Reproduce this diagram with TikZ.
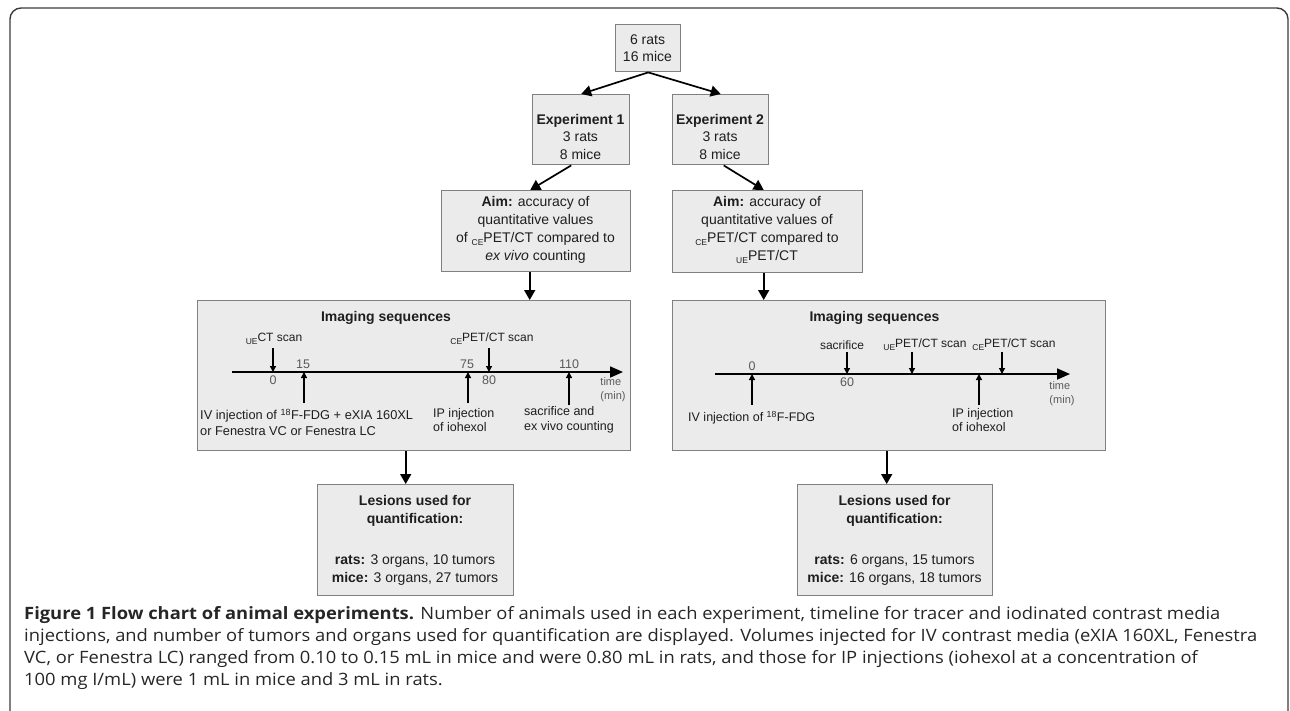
\documentclass[tikz,border=0pt]{standalone}
\usepackage{fontspec}
\setmainfont{Liberation Sans}
\newfontfamily\capfont{Open Sans}
\usetikzlibrary{arrows.meta}
\definecolor{boxfill}{HTML}{EBEBEB}
\definecolor{boxline}{HTML}{808080}
\definecolor{textc}{HTML}{1E1E1E}
\definecolor{numc}{HTML}{5A5A5A}
\definecolor{framec}{HTML}{3A3A3A}
\definecolor{capc}{HTML}{262626}
\newcommand\lowpre[1]{\raisebox{-0.45ex}{\fontsize{8.5}{9}\selectfont #1}}
\newlength\caplen
\newcommand\refline{injections, and number of tumors and organs used for quantification are displayed. Volumes injected for IV contrast media (eXIA 160XL, Fenestra}
\newcommand\capfit[1]{\settowidth{\caplen}{\refline}\pgfmathsetmacro\capsx{1233/\caplen}\scalebox{\capsx}[1]{#1}}
\tikzset{
  box/.style={draw=boxline, fill=boxfill, line width=1.4pt, inner sep=0pt, anchor=north west},
  txt/.style={font=\fontsize{14}{17.5}\selectfont, align=center, text=textc, inner sep=0pt},
  aimtxt/.style={font=\fontsize{14}{18}\selectfont, align=center, text=textc, inner sep=0pt},
  lab/.style={font=\fontsize{12.5}{14.5}\selectfont, align=left, text=textc, inner sep=0pt},
  biglab/.style={font=\fontsize{12.8}{15.5}\selectfont, align=left, text=textc, inner sep=0pt},
  scan/.style={font=\fontsize{12}{14}\selectfont, text=textc, inner sep=0pt},
  num/.style={font=\fontsize{12.5}{15}\selectfont, text=numc, inner sep=0pt},
  tlab/.style={font=\fontsize{11}{14}\selectfont, align=left, text=numc, inner sep=0pt},
  flow/.style={-{Triangle[length=10pt,width=11pt]}, line width=1.7pt, black},
  tick/.style={-{Triangle[length=6pt,width=6pt]}, line width=1.3pt, black},
  axis/.style={-{Triangle[length=13pt,width=11pt]}, line width=1.8pt, black},
  capline/.style={font=\capfont\fontsize{17}{20}\selectfont, text=capc, inner sep=0pt, anchor=base west},
}
\begin{document}
\begin{tikzpicture}[x=1pt,y=-1pt]
\useasboundingbox (0,0) rectangle (1290,710);
% outer frame
\draw[framec, line width=1.4pt, rounded corners=11pt] (10,730) -- (10,8) -- (1288,8) -- (1288,730);

% ---------- boxes ----------
\node[box, minimum width=65pt, minimum height=47pt] (top) at (615,24) {};
\node[txt] (toptx) at (647.5,48) {6 rats\\16 mice};

\node[box, minimum width=97pt, minimum height=70pt] (exp1) at (532,94) {};
\node[txt] (exp1tx) at (580.5,136.5) {\textbf{Experiment 1}\\3 rats\\8 mice};
\node[box, minimum width=96pt, minimum height=70pt] (exp2) at (672,94) {};
\node[txt] (exp2tx) at (720,136.5) {\textbf{Experiment 2}\\3 rats\\8 mice};

\node[box, minimum width=189pt, minimum height=81pt] (aim1) at (441,190) {};
\node[aimtxt] (aim1tx) at (535.5,230) {\textbf{Aim:} accuracy of\\quantitative values\\of \lowpre{CE}PET/CT compared to\\\textit{ex vivo} counting};
\node[box, minimum width=190pt, minimum height=82pt] (aim2) at (672,190) {};
\node[aimtxt] (aim2tx) at (767,230) {\textbf{Aim:} accuracy of\\quantitative values of\\\lowpre{CE}PET/CT compared to\\\lowpre{UE}PET/CT};

\node[box, minimum width=433pt, minimum height=150pt] (img1) at (197,300) {};
\node[box, minimum width=433pt, minimum height=150pt] (img2) at (672,300) {};

\node[box, minimum width=196pt, minimum height=111pt] (les1) at (317,484) {};
\node[txt] (les1h) at (415,511) {\textbf{Lesions used for}\\\textbf{quantification:}};
\node[txt] (les1tx) at (415,570) {\textbf{rats:} 3 organs, 10 tumors\\\textbf{mice:} 3 organs, 27 tumors};
\node[box, minimum width=195pt, minimum height=111pt] (les2) at (797,484) {};
\node[txt] (les2h) at (894.5,511) {\textbf{Lesions used for}\\\textbf{quantification:}};
\node[txt] (les2tx) at (894.5,570) {\textbf{rats:} 6 organs, 15 tumors\\\textbf{mice:} 16 organs, 18 tumors};

% ---------- flow arrows ----------
\draw[flow] (top.south) -- (exp1.north);
\draw[flow] (top.south) -- (exp2.north);
\draw[flow] ([xshift=-10pt]exp1.south) -- ([xshift=-6pt]aim1.north);
\draw[flow] ([xshift=3pt]exp2.south) -- ([xshift=-4pt]aim2.north);
\draw[flow] ([xshift=-6.5pt]aim1.south) -- ([xshift=-6.5pt]aim1.south |- img1.north);
\draw[flow] ([xshift=-4pt]aim2.south) -- ([xshift=-4pt]aim2.south |- img2.north);
\draw[flow] ([xshift=-8.5pt]img1.south) -- ([xshift=-8.5pt]img1.south |- les1.north);
\draw[flow] ([xshift=-2.5pt]img2.south) -- ([xshift=-2.5pt]img2.south |- les2.north);

% ---------- timeline 1 ----------
\node[font=\bfseries\fontsize{14}{17}\selectfont, text=textc] (seq1) at (386,318) {Imaging sequences};
\coordinate (ax1s) at (232,372);
\coordinate (ax1e) at (623,372);
\draw[axis] (ax1s) -- (ax1e);
\node[scan] (ct1) at (274,339) {\lowpre{UE}CT scan};
\coordinate (a1) at (273,348); \coordinate (b1) at (273,372);
\draw[tick] (a1) -- (b1);
\node[num] (n0a) at (273,380) {0};
\node[num] (n15) at (303,364) {15};
\coordinate (a2) at (304,403); \coordinate (b2) at (304,372);
\draw[tick] (a2) -- (b2);
\node[num] (n75) at (467,364) {75};
\coordinate (a3) at (468,403); \coordinate (b3) at (468,372);
\draw[tick] (a3) -- (b3);
\node[num] (n80) at (489,380) {80};
\node[scan] (pet1) at (492,339) {\lowpre{CE}PET/CT scan};
\coordinate (a4) at (489,348); \coordinate (b4) at (489,372);
\draw[tick] (a4) -- (b4);
\node[num] (n110) at (569,364) {110};
\coordinate (a5) at (569,405); \coordinate (b5) at (569,372);
\draw[tick] (a5) -- (b5);
\node[tlab] (time1) at (613,390) {time\\(min)};
\node[biglab, anchor=west] (iv1) at (200,422) {IV injection of \textsuperscript{18}F-FDG + eXIA 160XL\\or Fenestra VC or Fenestra LC};
\node[lab, anchor=west] (ip1) at (433,420) {IP injection\\of iohexol};
\node[lab, anchor=west] (sac1) at (524,420) {sacrifice and\\ex vivo counting};

% ---------- timeline 2 ----------
\node[font=\bfseries\fontsize{14}{17}\selectfont, text=textc] (seq2) at (874.5,318) {Imaging sequences};
\coordinate (ax2s) at (715,374);
\coordinate (ax2e) at (1070,374);
\draw[axis] (ax2s) -- (ax2e);
\node[num] (n0b) at (752,366) {0};
\coordinate (c1) at (752,405); \coordinate (d1) at (752,374);
\draw[tick] (c1) -- (d1);
\node[scan] (sac2) at (842,345) {sacrifice};
\coordinate (c2) at (847,352); \coordinate (d2) at (847,374);
\draw[tick] (c2) -- (d2);
\node[num] (n60) at (847,382) {60};
\node[scan] (pet2a) at (925,345) {\lowpre{UE}PET/CT scan};
\coordinate (c3) at (912,352); \coordinate (d3) at (912,374);
\draw[tick] (c3) -- (d3);
\node[scan] (pet2b) at (1014,345) {\lowpre{CE}PET/CT scan};
\coordinate (c4) at (1002,352); \coordinate (d4) at (1002,374);
\draw[tick] (c4) -- (d4);
\coordinate (c5) at (979,405); \coordinate (d5) at (979,374);
\draw[tick] (c5) -- (d5);
\node[lab, anchor=west] (ip2) at (952,420) {IP injection\\of iohexol};
\node[lab, anchor=west] (iv2) at (688,418) {IV injection of \textsuperscript{18}F-FDG};
\node[tlab] (time2) at (1062,394) {time\\(min)};

% ---------- caption ----------
\node[capline] (cap1) at (24,619) {\capfit{\textbf{Figure 1 Flow chart of animal experiments.} Number of animals used in each experiment, timeline for tracer and iodinated contrast media}};
\node[capline] (cap2) at (24,641) {\capfit{injections, and number of tumors and organs used for quantification are displayed. Volumes injected for IV contrast media (eXIA 160XL, Fenestra}};
\node[capline] (cap3) at (24,663) {\capfit{VC, or Fenestra LC) ranged from 0.10 to 0.15 mL in mice and were 0.80 mL in rats, and those for IP injections (iohexol at a concentration of}};
\node[capline] (cap4) at (24,685) {\capfit{100 mg I/mL) were 1 mL in mice and 3 mL in rats.}};
\end{tikzpicture}
\end{document}
